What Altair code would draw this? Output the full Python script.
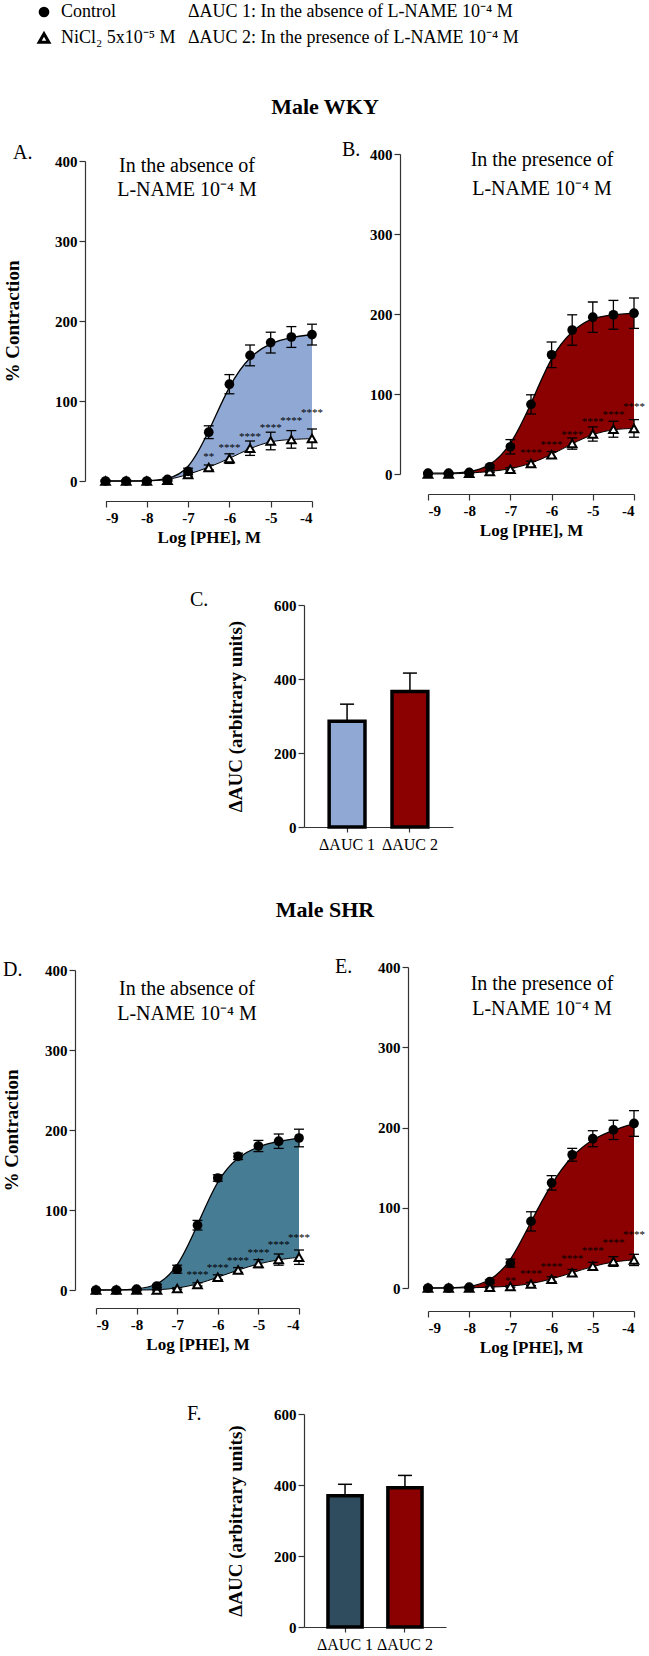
import altair as alt
import pandas as pd

SERIF = "'Liberation Serif', 'Times New Roman', Times, serif"

# ---------------- data ----------------
LOG_DOSE = [-9, -8.5, -8, -7.5, -7, -6.5, -6, -5.5, -5, -4.5, -4]
X_TICKS = [-9, -8, -7, -6, -5, -4]
Y_TICKS_CURVE = [0, 100, 200, 300, 400]
Y_TICKS_BAR = [0, 200, 400, 600]

# Panel A (WKY, no L-NAME)
A_CTRL = [0, 0, 0, 2, 12, 61, 121, 157, 173, 180, 183]
A_CTRL_SEM = [1, 1, 1, 2, 4, 8, 12, 13, 13, 13, 13]
A_NI = [0, 0, 0, 1, 8, 17, 28, 41, 50, 52, 53]
A_NI_SEM = [1, 1, 1, 1, 2, 3, 6, 9, 11, 11, 12]
A_STARS = ["", "", "", "", "", "**", "****", "****", "****", "****", "****"]
A_STAR_Y = [0, 0, 0, 0, 0, 34, 45, 59, 70, 79, 89]

# Panel B (WKY, L-NAME)
B_CTRL = [1, 1, 2, 9, 34, 87, 149, 180, 196, 199, 201]
B_CTRL_SEM = [1, 1, 1, 2, 9, 12, 16, 19, 19, 18, 19]
B_NI = [0, 0, 1, 3, 6, 13, 24, 38, 50, 56, 57]
B_NI_SEM = [1, 1, 1, 1, 2, 3, 4, 7, 9, 10, 11]
B_STARS = ["", "", "", "", "", "****", "****", "****", "****", "****", "****"]
B_STAR_Y = [0, 0, 0, 0, 0, 30, 40, 53, 69, 78, 87]

# Panel D (SHR, no L-NAME)
D_CTRL = [0, 0, 1, 5, 26, 81, 140, 167, 180, 186, 190]
D_CTRL_SEM = [1, 1, 1, 2, 5, 6, 4, 4, 7, 9, 11]
D_NI = [0, 0, 0, 0, 2, 7, 16, 25, 33, 38, 41]
D_NI_SEM = [1, 1, 1, 1, 1, 2, 3, 3, 5, 7, 9]
D_STARS = ["", "", "", "", "", "****", "****", "****", "****", "****", "****"]
D_STAR_Y = [0, 0, 0, 0, 0, 22, 31, 40, 50, 60, 69]

# Panel E (SHR, L-NAME)
E_CTRL = [0, 0, 1, 8, 31, 83, 131, 166, 186, 197, 205]
E_CTRL_SEM = [1, 1, 1, 2, 5, 12, 9, 8, 10, 12, 16]
E_NI = [0, 0, 0, 1, 2, 5, 11, 19, 27, 33, 35]
E_NI_SEM = [1, 1, 1, 1, 1, 2, 3, 4, 5, 6, 7]
E_STARS = ["", "", "", "", "**", "****", "****", "****", "****", "****", "****"]
E_STAR_Y = [0, 0, 0, 0, 13, 21, 30, 40, 50, 60, 70]

# Bar panels
BAR_CATS = ["\u0394AUC 1", "\u0394AUC 2"]
C_AUC = [286, 366]
C_SEM = [46, 50]
F_AUC = [370, 392]
F_SEM = [32, 35]

# colours
LIGHT_BLUE = "#8FA9D4"
DARK_RED = "#8B0000"
TEAL = "#477C95"
SLATE = "#2E4C5E"

ONE = pd.DataFrame({"k": [0]})


def txt(x, y, s, size=20, weight="normal", align="left"):
    return alt.Chart(ONE).mark_text(
        text=s, fontSize=size, fontWeight=weight, align=align,
        baseline="middle", font=SERIF, color="black"
    ).encode(x=alt.value(x), y=alt.value(y))


def vanchor(y1, y2):
    # invisible strip that fixes the vertical extent of a row in the page
    return alt.Chart(ONE).mark_rect(opacity=0).encode(
        x=alt.value(0), x2=alt.value(1), y=alt.value(y1), y2=alt.value(y2))


def y_axis(title, values, tpad, off):
    return alt.Axis(title=title, values=values, grid=False, domainColor="#333",
                    domainWidth=1.2, tickColor="#333", tickWidth=1.2, tickSize=6,
                    labelPadding=2, labelFont=SERIF, labelFontWeight="bold",
                    labelFontSize=15, labelColor="black", titleFont=SERIF,
                    titleFontWeight="bold", titleFontSize=19, titleColor="black",
                    titlePadding=tpad, offset=off)


def curve_panel(ctrl, csem, ni, nsem, stars, star_y, fill, w, h, xr, yr, x_off, y_off,
                ytitle, tpad, vcell, texts):
    df = pd.DataFrame({"dose": LOG_DOSE, "ctrl": ctrl, "csem": csem,
                       "ni": ni, "nsem": nsem, "star": stars, "sy": star_y})
    xs = alt.Scale(domain=[-9, -4], range=xr)
    ys = alt.Scale(domain=[0, 400], range=yr)
    xaxis = alt.Axis(values=X_TICKS, labelExpr="'' + datum.value", offset=x_off,
                     title="Log [PHE], M", grid=False, domainColor="#333",
                     domainWidth=1.2, tickColor="#333", tickWidth=1.2, tickSize=6,
                     labelFont=SERIF, labelFontWeight="bold", labelFontSize=15,
                     labelColor="black", labelPadding=3, titleFont=SERIF,
                     titleFontWeight="bold", titleFontSize=17, titleColor="black",
                     titlePadding=4)
    yaxis = y_axis(ytitle, Y_TICKS_CURVE, tpad, y_off)
    X = alt.X("dose:Q", scale=xs, axis=xaxis)

    def Y(f):
        return alt.Y(f + ":Q", scale=ys, axis=yaxis)

    base = alt.Chart(df)
    area = base.transform_filter("datum.dose >= -8").mark_area(
        color=fill, interpolate="basis", opacity=1).encode(x=X, y=Y("ctrl"), y2="ni:Q")
    line_c = base.mark_line(color="black", strokeWidth=1.3, interpolate="basis").encode(x=X, y=Y("ctrl"))
    line_n = base.mark_line(color="black", strokeWidth=1.0, interpolate="basis").encode(x=X, y=Y("ni"))

    cb = base.transform_calculate(lo="datum.ctrl - datum.csem", hi="datum.ctrl + datum.csem")
    nb = base.transform_calculate(lo="datum.ni - datum.nsem", hi="datum.ni + datum.nsem")
    layers = [vanchor(*vcell), area, line_c, line_n]
    for b in (cb, nb):
        layers.append(b.mark_rule(color="black", strokeWidth=1.3).encode(x=X, y=Y("lo"), y2="hi:Q"))
        layers.append(b.mark_tick(orient="horizontal", size=10, thickness=1.3, color="black", opacity=1).encode(x=X, y=Y("hi")))
        layers.append(b.mark_tick(orient="horizontal", size=10, thickness=1.3, color="black", opacity=1).encode(x=X, y=Y("lo")))
    tri = base.mark_point(shape="triangle-up", filled=True, fill="white", stroke="black",
                          strokeWidth=2, size=75, opacity=1).encode(x=X, y=Y("ni"))
    circ = base.mark_point(shape="circle", filled=True, color="black", size=95,
                           opacity=1).encode(x=X, y=Y("ctrl"))
    st = base.transform_filter("datum.star != ''").mark_text(
        font=SERIF, fontSize=11, baseline="middle", dy=3, color="black").encode(
        x=X, y=Y("sy"), text="star:N")
    layers += [tri, circ, st]
    layers += [txt(*t) for t in texts]
    return alt.layer(*layers).properties(width=w, height=h)


def bar_panel(vals, sems, colors, h, xr, vcell, texts):
    df = pd.DataFrame({"cat": BAR_CATS, "val": vals, "sem": sems})
    xs = alt.Scale(domain=BAR_CATS, range=xr, paddingInner=0.43, paddingOuter=0.4)
    X = alt.X("cat:N", scale=xs, axis=alt.Axis(
        labelAngle=0, title=None, labelFont=SERIF, labelFontSize=16,
        labelColor="black", tickSize=5, tickColor="#333", tickWidth=1.2,
        domainColor="#333", domainWidth=1.2, labelPadding=4))
    ys = alt.Scale(domain=[0, 600])
    yaxis = y_axis("\u0394AUC (arbitrary units)", Y_TICKS_BAR, 28, -xr[0])

    def Y(f):
        return alt.Y(f + ":Q", scale=ys, axis=yaxis)

    base = alt.Chart(df)
    eb = base.transform_calculate(hi="datum.val + datum.sem")
    err = eb.mark_rule(color="black", strokeWidth=1.5).encode(x=X, y=Y("val"), y2="hi:Q")
    cap = eb.mark_tick(orient="horizontal", size=14, thickness=1.5, color="black",
                       opacity=1).encode(x=X, y=Y("hi"))
    bars = [base.transform_filter(alt.datum.cat == c).mark_bar(
        stroke="black", strokeWidth=3.5, opacity=1, fill=col).encode(x=X, y=Y("val"))
        for c, col in zip(BAR_CATS, colors)]
    layers = [vanchor(*vcell), err, cap] + bars + [txt(*t) for t in texts]
    return alt.layer(*layers).properties(width=649, height=h)


SUP4 = "10\u207b\u2074 M"

header = alt.layer(
    vanchor(0, 140),
    alt.Chart(ONE).mark_point(shape="circle", filled=True, color="black", size=115,
                              opacity=1).encode(x=alt.value(44), y=alt.value(12)),
    alt.Chart(ONE).mark_point(shape="triangle-up", filled=True, fill="white", stroke="black",
                              strokeWidth=3, size=95, opacity=1).encode(x=alt.value(44), y=alt.value(38)),
    txt(61, 12, "Control", 18),
    txt(61, 38, "NiCl\u2082 5x10\u207b\u2075 M", 18),
    txt(188, 12, "\u0394AUC 1: In the absence of L-NAME " + SUP4, 18),
    txt(188, 38, "\u0394AUC 2: In the presence of L-NAME " + SUP4, 18),
    txt(325, 107, "Male WKY", 22, "bold", "center"),
).properties(width=649, height=140)

# panel A: plot origin (0,152), y-axis at x=85; row y 140..562
A = curve_panel(A_CTRL, A_CTRL_SEM, A_NI, A_NI_SEM, A_STARS, A_STAR_Y, LIGHT_BLUE,
                335, 327, [105.5, 312], [327, 7], 20, -85, "% Contraction", 32,
                (-12, 410),
                [(13, -1, "A.", 20), (187, 12, "In the absence of", 20, "normal", "center"),
                 (187, 36, "L-NAME " + SUP4, 20, "normal", "center")])
# panel B: plot origin (335,152), y-axis at x=400
B = curve_panel(B_CTRL, B_CTRL_SEM, B_NI, B_NI_SEM, B_STARS, B_STAR_Y, DARK_RED,
                314, 327, [93, 299], [320, 0], 13, -65, None, 30,
                (-12, 410),
                [(7, -4, "B.", 20), (207, 6, "In the presence of", 20, "normal", "center"),
                 (207, 35, "L-NAME " + SUP4, 20, "normal", "center")])
# panel C: plot origin (0,603), y-axis at x=304; row y 562..945
C = bar_panel(C_AUC, C_SEM, [LIGHT_BLUE, DARK_RED], 222, [304, 453], (-41, 342),
              [(190, -5, "C.", 20), (325, 305, "Male SHR", 22, "bold", "center")])
# panel D: plot origin (0,965), y-axis at x=75; row y 945..1380
D = curve_panel(D_CTRL, D_CTRL_SEM, D_NI, D_NI_SEM, D_STARS, D_STAR_Y, TEAL,
                330, 323, [96, 299], [323, 3], 18, -75, "% Contraction", 23,
                (-20, 415),
                [(3, 3, "D.", 20), (187, 22, "In the absence of", 20, "normal", "center"),
                 (187, 47, "L-NAME " + SUP4, 20, "normal", "center")])
# panel E: plot origin (330,965), y-axis at x=408
E = curve_panel(E_CTRL, E_CTRL_SEM, E_NI, E_NI_SEM, E_STARS, E_STAR_Y, DARK_RED,
                319, 323, [98, 304], [321, 0], 21, -78, None, 30,
                (-20, 415),
                [(5, 0, "E.", 20), (212, 17, "In the presence of", 20, "normal", "center"),
                 (212, 42, "L-NAME " + SUP4, 20, "normal", "center")])
# panel F: plot origin (0,1412), y-axis at x=304; row y 1380..1656
F = bar_panel(F_AUC, F_SEM, [SLATE, DARK_RED], 213, [304, 446], (-32, 244),
              [(187, 0, "F.", 20)])

row1 = alt.hconcat(A, B, spacing=0, bounds="flush")
row3 = alt.hconcat(D, E, spacing=0, bounds="flush")

chart = alt.vconcat(header, row1, C, row3, F, spacing=0, padding=0).configure(
    font=SERIF).configure_view(strokeWidth=0, stroke="transparent")

chart.save("out.html", embed_options={"renderer": "svg", "actions": False})
